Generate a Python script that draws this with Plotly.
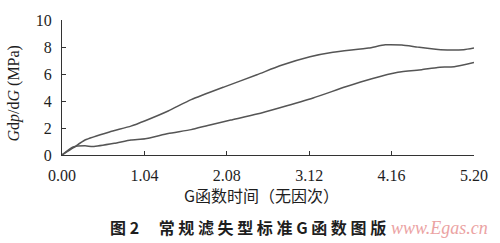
import plotly.graph_objects as go

# Upper curve
x_upper = [0.0, 0.14, 0.29, 0.60, 0.87, 1.05, 1.34, 1.63, 2.05, 2.46, 2.75, 3.13, 3.42, 3.87, 4.08, 4.29, 4.49, 4.78, 5.07, 5.20]
y_upper = [0.0, 0.52, 1.11, 1.71, 2.14, 2.54, 3.26, 4.10, 5.05, 5.94, 6.61, 7.28, 7.61, 7.92, 8.16, 8.14, 7.99, 7.80, 7.80, 7.92]

# Lower curve
x_lower = [0.0, 0.14, 0.29, 0.39, 0.66, 0.87, 1.05, 1.34, 1.63, 1.84, 2.13, 2.46, 2.75, 3.17, 3.58, 3.91, 4.24, 4.54, 4.74, 4.95, 5.20]
y_lower = [0.0, 0.59, 0.68, 0.63, 0.87, 1.11, 1.20, 1.59, 1.88, 2.19, 2.59, 3.03, 3.50, 4.22, 5.05, 5.65, 6.13, 6.32, 6.49, 6.54, 6.85]

x_ticks = [0.0, 1.04, 2.08, 3.12, 4.16, 5.20]
x_tick_labels = ["0.00", "1.04", "2.08", "3.12", "4.16", "5.20"]
y_ticks = [0, 2, 4, 6, 8, 10]

line_color = "#555555"
serif = "Liberation Serif"
cjk = "Noto Sans CJK SC"
text_color = "#1e1e1e"

fig = go.Figure()
fig.add_trace(go.Scatter(x=x_upper, y=y_upper, mode="lines",
                         line=dict(color=line_color, width=1.5, shape="spline", smoothing=0.5),
                         showlegend=False))
fig.add_trace(go.Scatter(x=x_lower, y=y_lower, mode="lines",
                         line=dict(color=line_color, width=1.5, shape="spline", smoothing=0.5),
                         showlegend=False))

fig.update_layout(
    width=500, height=243,
    margin=dict(l=62, r=20, t=16, b=88),
    paper_bgcolor="white", plot_bgcolor="white",
    font=dict(family=serif, size=16, color=text_color),
    xaxis=dict(range=[0, 5.20], tickvals=x_ticks, ticktext=x_tick_labels,
               showgrid=False, zeroline=False, showline=True, linecolor="#333333", linewidth=1.2,
               ticks="inside", ticklen=4, tickcolor="#333333", ticklabelstandoff=6,
               tickfont=dict(family=serif, size=16, color=text_color)),
    yaxis=dict(range=[0, 10], tickvals=y_ticks,
               showgrid=False, zeroline=False, showline=True, linecolor="#333333", linewidth=1.2,
               ticks="inside", ticklen=4, tickcolor="#333333", ticklabelstandoff=6,
               tickfont=dict(family=serif, size=16, color=text_color)),
    annotations=[
        dict(text="<i>G</i>d<i>p</i>/d<i>G</i> (MPa)", xref="paper", yref="paper",
             x=(13 - 62) / 418, y=(155 - 92) / 139, textangle=-90, showarrow=False,
             xanchor="center", yanchor="middle",
             font=dict(family=serif, size=16, color=text_color)),
        dict(text="G函数时间（无因次）", xref="paper", yref="paper",
             x=(264 - 62) / 418, y=-(196 - 155) / 139, showarrow=False,
             xanchor="center", yanchor="middle",
             font=dict(family=cjk, size=16, color=text_color)),
        dict(text="<b>图 2　 常 规 滤 失 型 标 准 G 函 数 图 版</b>", xref="paper", yref="paper",
             x=(251 - 62) / 418, y=-(229 - 155) / 139, showarrow=False,
             xanchor="center", yanchor="middle",
             font=dict(family=cjk, size=16, color=text_color)),
        dict(text="<i>www.Egas.cn</i>", xref="paper", yref="paper",
             x=(445 - 62) / 418, y=-(230 - 155) / 139, showarrow=False,
             xanchor="center", yanchor="middle",
             font=dict(family=serif, size=18, color="#eba3a3")),
    ],
)

fig.write_html("out.html")
